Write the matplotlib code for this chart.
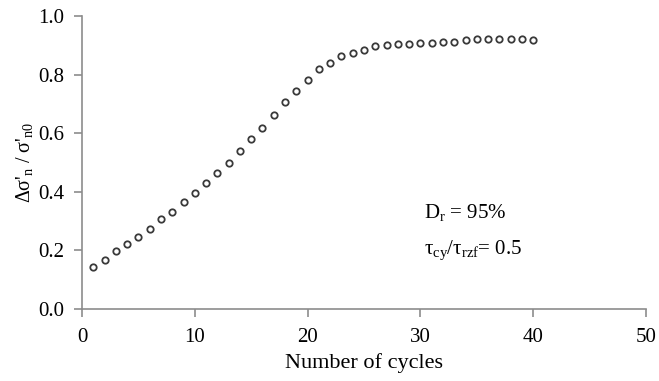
import numpy as np
import matplotlib
matplotlib.use("Agg")
import matplotlib.pyplot as plt

plt.rcParams['font.family'] = ['Liberation Serif', 'DejaVu Serif']
plt.rcParams['mathtext.fontset'] = 'custom'
plt.rcParams['mathtext.rm'] = 'Liberation Serif'
plt.rcParams['mathtext.it'] = 'Liberation Serif:italic'

# number of cycles and pore pressure ratio
cycles = np.arange(1, 41)
ratio = [0.144, 0.168, 0.198, 0.222, 0.246, 0.274, 0.308, 0.332, 0.366, 0.396,
         0.430, 0.463, 0.497, 0.540, 0.579, 0.618, 0.661, 0.705, 0.744, 0.783,
         0.818, 0.840, 0.862, 0.875, 0.884, 0.896, 0.900, 0.904, 0.904, 0.907,
         0.909, 0.912, 0.912, 0.917, 0.920, 0.923, 0.923, 0.923, 0.921, 0.918]

xticks = [0, 10, 20, 30, 40, 50]
yticks = [0.0, 0.2, 0.4, 0.6, 0.8, 1.0]

fig = plt.figure(figsize=(6.59, 3.81), dpi=100)
ax = fig.add_axes([0.1244, 0.189, 0.856, 0.769])

ax.plot(cycles, ratio, 'o', ms=4.6, mfc='white', mec='#3a3a3a', mew=1.3,
        linestyle='none', clip_on=False)

ax.set_xlim(0, 50)
ax.set_ylim(0, 1.0)
ax.set_xticks(xticks)
ax.set_yticks(yticks)
ax.set_yticklabels(["%.1f" % v for v in yticks])

gray = '#8c8c8c'
for s in ['top', 'right']:
    ax.spines[s].set_visible(False)
for s in ['left', 'bottom']:
    ax.spines[s].set_color(gray)
    ax.spines[s].set_linewidth(1.2)
ax.tick_params(direction='out', length=6, width=1.2, color=gray,
               labelsize=15, labelcolor='black')
ax.tick_params(axis='x', pad=8)
ax.tick_params(axis='y', pad=7)

ax.set_xlabel("Number of cycles", fontsize=16, labelpad=4)
ax.set_ylabel("Δσ'$_{\\rm n}$ / σ'$_{\\rm n0}$", fontsize=14.5, labelpad=2)

ax.text(30.3, 0.328, "D$_{\\rm r}$ = 95%", fontsize=15, va='center')
ax.text(30.3, 0.2, "τ$_{\\rm cy}$/τ$_{\\rm rzf}$= 0.5", fontsize=15, va='center')

fig.savefig("out.png", dpi=100)
